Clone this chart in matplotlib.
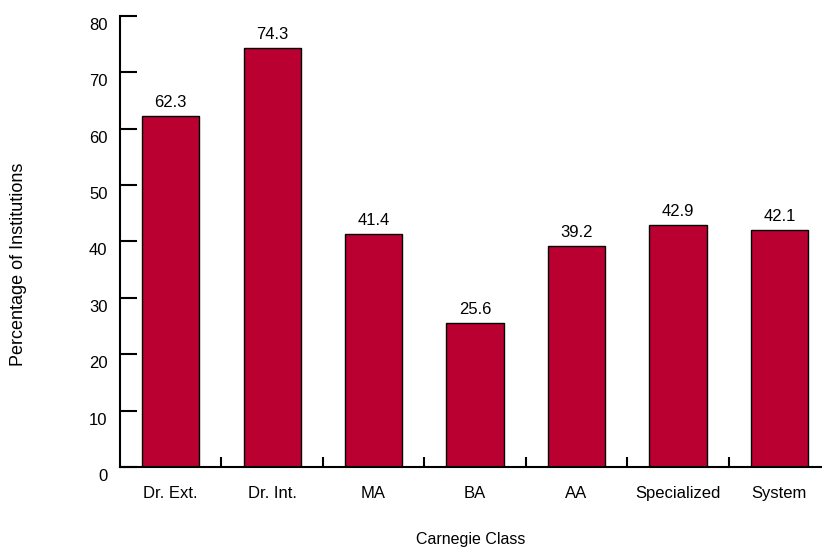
import matplotlib.pyplot as plt
import matplotlib.transforms as mtransforms
import numpy as np

plt.rcParams['font.family'] = ['Liberation Sans', 'DejaVu Sans']

clases = ["Dr. Ext.", "Dr. Int.", "MA", "BA", "AA", "Specialized", "System"]
porcentajes = [62.3, 74.3, 41.4, 25.6, 39.2, 42.9, 42.1]

fig = plt.figure(figsize=(8.22, 5.48), dpi=100)
ax = fig.add_axes([0.146, 0.148, 0.854, 0.823])

x = np.arange(len(clases))
ax.bar(x, porcentajes, width=0.565, color="#BA0030", edgecolor="black", linewidth=1)

# etiquetas con el valor encima de cada barra
for xi, v in zip(x, porcentajes):
    ax.annotate(f"{v:.1f}", (xi, v), xytext=(0, 4), textcoords="offset points",
                ha="center", va="bottom", fontsize=12)

ax.set_xlim(-0.5, 6.42)
ax.set_ylim(0, 80)
ax.set_yticks(range(0, 81, 10))

# marcas del eje x entre categorias, etiquetas centradas sin marca
ax.set_xticks(x[:-1] + 0.5)
ax.tick_params(axis="x", which="major", direction="in", length=7, width=1.5, labelbottom=False)
ax.set_xticks(x, minor=True)
ax.set_xticklabels(clases, minor=True)
ax.tick_params(axis="x", which="minor", length=0, pad=14, labelsize=12)

ax.tick_params(axis="y", direction="in", length=12, width=1.5, pad=9, labelsize=12)

# las etiquetas del eje y van un poco por debajo de su marca
desplaza = mtransforms.ScaledTranslation(0, -8 / 100, fig.dpi_scale_trans)
for etiqueta in ax.get_yticklabels():
    etiqueta.set_transform(etiqueta.get_transform() + desplaza)

for lado in ["top", "right"]:
    ax.spines[lado].set_visible(False)
for lado in ["left", "bottom"]:
    ax.spines[lado].set_linewidth(1.5)

ax.set_xlabel("Carnegie Class", fontsize=11.5, labelpad=22)
fig.text(0.022, 0.517, "Percentage of Institutions", rotation=90, ha="center", va="center", fontsize=13)

plt.savefig("out.png")
